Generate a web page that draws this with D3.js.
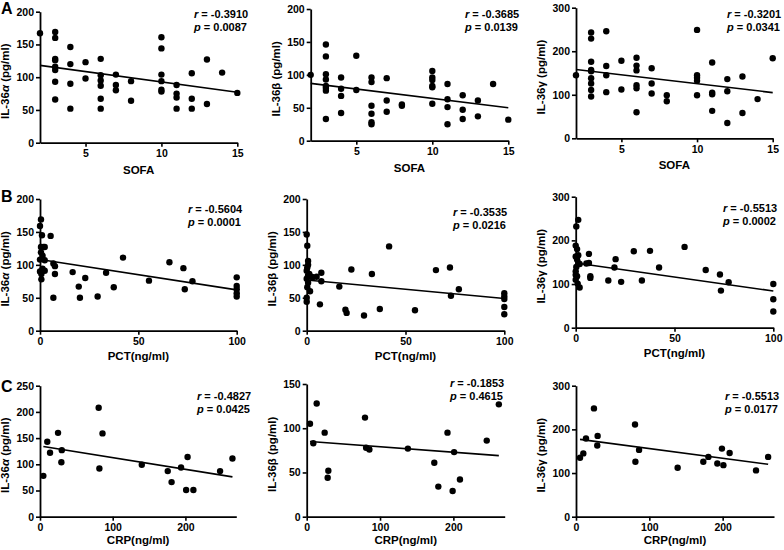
<!DOCTYPE html>
<html>
<head>
<meta charset="utf-8">
<script src="https://cdn.jsdelivr.net/npm/d3@7"></script>
<style>
  html, body { margin: 0; padding: 0; background: #fff; }
  svg { display: block; }
  text { font-family: "Liberation Sans", Arial, Helvetica, sans-serif; font-weight: bold; fill: #000; }
</style>
</head>
<body>
<svg id="chart" width="784" height="550"></svg>
<script>
// ---------------- DATA ----------------
// Row A: SOFA score
const sofaA_x = [2,3,3,3,3,3,3,3,3,4,4,4,4,5,5,6,6,6,6,6,6,7,7,7,8,8,10,10,10,10,10,10,11,11,11,11,12,12,12,13,13,14,15];
const il36a_sofa = [167,169,160,128,126,116,111,93,66,146,120,90,52,123,98,128,103,95,87,67,52,104,88,80,94,64,161,144,104,94,81,78,88,75,69,52,106,67,52,127,59,107,76];
const sofaB_x = [2,3,3,3,3,3,3,3,3,4,4,4,4,5,5,6,6,6,6,6,6,7,7,7,8,8,10,10,10,10,10,10,11,11,11,11,12,12,12,13,13,14,15];
const il36b_sofa = [100,146,128,101,93,83,80,76,33,96,79,68,42,129,77,96,89,53,41,28,25,95,61,44,55,53,106,96,92,83,81,56,86,63,51,25,69,47,33,61,37,86,32];
const sofaG_x = [2,3,3,3,3,3,3,3,3,3,4,4,4,4,5,5,6,6,6,6,6,6,7,7,7,8,8,10,10,10,10,10,11,11,11,11,12,12,12,13,13,14,15];
const il36g_sofa = [145,243,229,176,157,154,138,126,111,96,246,166,145,106,178,112,185,167,156,122,115,60,161,126,103,99,85,249,145,139,132,99,174,105,101,63,136,108,35,142,58,90,184];

// Row B: PCT (ng/ml)
const pctA_x = [0.5,0,1,5.4,0.5,1.7,2.4,0.5,1.3,0,2.4,6.8,7.6,1.3,2.4,0,0.7,0.7,7.6,6.8,16.6,19.7,20.3,23,29.3,33.6,37.5,42.2,55.4,65.8,72.9,73.6,77.5,100,100,100,100,100];
const il36a_pct = [169,159,145,144,127,127,127,119,114,108,107,102,98,94,91,90,86,78,86,50,89,67,50,80,52,88,66,111,76,104,95,63,75,81,68,63,57,52];
const pctB_x = [0,0.3,0.7,0.7,0.3,0,1.3,0.7,2.4,3,5,7.4,0,0.7,0.3,1.7,0,0,6.7,7.4,16.5,19.6,20.2,22.6,29,33,37,41.7,54.8,65.4,72.5,73,77,100,100,100,100,100];
const il36b_pct = [146,129,106,100,96,91,86,84,82,81,82,88,79,73,66,60,50,44,40,75,67,32,27,93,23,86,33,128,31,92,96,53,63,57,52,48,36,25];
const pctG_x = [1.3,0.3,0,0.7,1.3,0,0.7,1.3,6.7,20.2,29.4,0.3,0,2,5.4,6.7,19.6,0,0.7,0,1,2,7.4,7.4,16.5,23,33.5,37.6,42.2,55.1,65.8,73,73.5,77.4,100,100,100];
const il36g_pct = [247,232,188,180,166,163,156,148,169,157,175,139,129,146,147,148,138,121,118,110,101,92,118,114,108,105,108,176,138,185,132,122,85,104,100,65,37];

// Row C: CRP (ng/ml)
const crpA_x = [4.6,10,13.8,24.8,30,29.4,80.7,81.7,86,140,175.7,181,194,203,201,211,247.7,264.7];
const il36a_crp = [78,143,122,160,127,104,208,92,159,99,87,66,94,114,51,51,87,111];
const crpB_x = [4.5,13.6,9,24.5,29.5,28.6,79.5,81,85.5,138,174,179.5,192,199,201,209,245.5,262];
const il36b_crp = [105,128,83,95,52,44,112,78,76,77,61,34,95,29,73,42,86,127];
const crpG_x = [5.5,10,13.6,24.5,29.5,29,80.5,81,86,138.6,173.6,180.5,192.7,199,201,209.5,245.5,262];
const il36g_crp = [135,145,179,248,185,163,211,126,153,112,126,137,122,156,118,146,106,137];

// Regression lines (endpoints): [x0, y0, x1, y1]
const fitLines = [
  [2,118,15,77], [2,87,15,50], [2,158,15,105],
  [0,108,100,62], [0,77,100,49], [0,148,100,84],
  [4.6,134,264.7,76], [4.5,85,262,69], [5.5,177,262,120]
];
const rValues = ["-0.3910","-0.3685","-0.3201","-0.5604","-0.3535","-0.5513","-0.4827","-0.1853","-0.5513"];
const pValues = ["0.0087","0.0139","0.0341","0.0001","0.0216","0.0002","0.0425","0.4615","0.0177"];

const xTitles = ["SOFA","PCT(ng/ml)","CRP(ng/ml)"];
const cytokines = ["\u03b1","\u03b2","\u03b3"];
const xDomains = [[2,15],[0,100],[0,270]];
const xTickValues = [[5,10,15],[0,50,100],[0,100,200]];
const yDomains = [[0,200],[0,200],[0,300],[0,200],[0,200],[0,300],[0,250],[0,150],[0,300]];
const yTickValues = [[0,50,100,150,200],[0,50,100,150,200],[0,100,200,300],
                     [0,50,100,150,200],[0,50,100,150,200],[0,100,200,300],
                     [0,50,100,150,200,250],[0,50,100,150],[0,100,200,300]];
const rowLetters = ["A","B","C"];

// ---------------- LAYOUT ----------------
const layout = [
  {left:40,   right:237.3, top:11.7,  bottom:142.7, sx:194, sy:18},
  {left:310.7,right:508.3, top:9,     bottom:140.7, sx:465, sy:18},
  {left:576,  right:772.7, top:7.7,   bottom:138.3, sx:727, sy:18},
  {left:40,   right:236.7, top:199,   bottom:330.7, sx:188, sy:213},
  {left:306.7,right:504.3, top:199,   bottom:330.7, sx:453, sy:216},
  {left:575.7,right:773.3, top:196.7, bottom:327.7, sx:723, sy:212},
  {left:40,   right:236.3, top:385.7, bottom:516.7, sx:197, sy:400},
  {left:306.7,right:504.7, top:384,   bottom:516.7, sx:450, sy:387},
  {left:576,  right:774,   top:385.7, bottom:516.7, sx:725, sy:400}
];
const xTitleOffset = [31, 29.5, 27];
const letterPos = [[1,14],[1,202],[1,392]];

const xsList = [sofaA_x, sofaB_x, sofaG_x, pctA_x, pctB_x, pctG_x, crpA_x, crpB_x, crpG_x];
const ysList = [il36a_sofa, il36b_sofa, il36g_sofa, il36a_pct, il36b_pct, il36g_pct, il36a_crp, il36b_crp, il36g_crp];

const svg = d3.select("#chart");

for (let i = 0; i < 9; i++) {
  const row = Math.floor(i / 3), col = i % 3;
  const L = layout[i];
  const x = d3.scaleLinear().domain(xDomains[row]).range([L.left, L.right]);
  const y = d3.scaleLinear().domain(yDomains[i]).range([L.bottom, L.top]);
  const g = svg.append("g");

  // axes
  const yAx = g.append("g").attr("transform", `translate(${L.left},0)`)
    .call(d3.axisLeft(y).tickValues(yTickValues[i]).tickSize(4).tickSizeOuter(0).tickPadding(2));
  const xAx = g.append("g").attr("transform", `translate(0,${L.bottom})`)
    .call(d3.axisBottom(x).tickValues(xTickValues[row]).tickSize(4).tickSizeOuter(0).tickPadding(3));
  [yAx, xAx].forEach(a => {
    a.select(".domain").attr("stroke", "#000").attr("stroke-width", 1.8);
    a.selectAll(".tick line").attr("stroke", "#000").attr("stroke-width", 1.6);
    a.selectAll(".tick text").style("font-size", "10.5px").style("font-weight", "bold")
      .style("font-family", '"Liberation Sans", Arial, sans-serif').attr("fill", "#000");
  });

  // points
  const pts = xsList[i].map((v, k) => [v, ysList[i][k]]);
  g.selectAll("circle").data(pts).join("circle")
    .attr("cx", d => x(d[0])).attr("cy", d => y(d[1])).attr("r", 3.2).attr("fill", "#000");

  // regression line
  const f = fitLines[i];
  g.append("line")
    .attr("x1", x(f[0])).attr("y1", y(f[1])).attr("x2", x(f[2])).attr("y2", y(f[3]))
    .attr("stroke", "#000").attr("stroke-width", 1.6);

  // axis titles
  g.append("text").attr("x", (L.left + L.right) / 2).attr("y", L.bottom + xTitleOffset[row])
    .attr("text-anchor", "middle").style("font-size", "11.5px").text(xTitles[row]);
  const yt = g.append("text")
    .attr("transform", `translate(${L.left - 31},${(L.top + L.bottom) / 2 + 4}) rotate(-90)`)
    .attr("text-anchor", "middle").style("font-size", "11.5px");
  yt.append("tspan").text("IL-36");
  yt.append("tspan").style("font-style", col === 0 ? "italic" : "normal").text(cytokines[col]);
  yt.append("tspan").text(" (pg/ml)");

  // stats
  const st = g.append("text").attr("x", L.sx).attr("y", L.sy).style("font-size", "11px");
  st.append("tspan").style("font-style", "italic").text("r");
  st.append("tspan").text(" = " + rValues[i]);
  const sp = g.append("text").attr("x", L.sx).attr("y", L.sy + 12.5).style("font-size", "11px");
  sp.append("tspan").style("font-style", "italic").text("p");
  sp.append("tspan").text(" = " + pValues[i]);

  if (col === 0) {
    svg.append("text").attr("x", letterPos[row][0]).attr("y", letterPos[row][1])
      .style("font-size", "16px").text(rowLetters[row]);
  }
}
</script>
</body>
</html>
